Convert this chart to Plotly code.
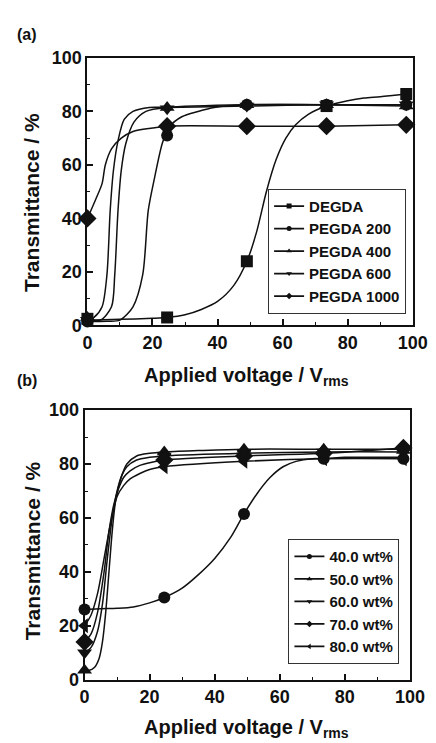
import plotly.graph_objects as go

# ---------------- Panel (a) data ----------------
a_names = ["DEGDA", "PEGDA 200", "PEGDA 400", "PEGDA 600", "PEGDA 1000"]
a_symbols = ["square", "circle", "triangle-up", "triangle-down", "diamond"]

# measured points (markers)
a_mx = [0, 24.5, 49, 73.5, 98]
a_my_degda = [2.5, 3, 24, 82, 86.5]
a_my_p200 = [1.5, 71, 82.5, 82.5, 82.5]
a_my_p400 = [3, 81.5, 82.5, 82.5, 82]
a_my_p600 = [2, 81, 82, 82.5, 82.5]
a_my_p1000 = [40, 74.5, 74.5, 74.5, 75]

# fitted curves
a_cx_degda = [0, 10, 20, 24.5, 30, 35, 40, 45, 49, 52, 55, 58, 61, 64, 68, 73.5, 80, 85, 90, 98]
a_cy_degda = [2, 2.3, 2.7, 3, 4, 6, 9, 15, 24, 35, 50, 62, 70, 75, 79, 82, 84, 85, 85.5, 86.5]
a_cx_p200 = [0, 6, 10, 14, 17, 18.7, 20.6, 23, 25, 29, 34, 39, 49, 73.5, 98]
a_cy_p200 = [1.5, 1.6, 2, 7, 19, 43, 55, 68, 74, 78, 80, 81.5, 82.5, 82.5, 82.5]
a_cx_p400 = [0, 4, 7.4, 8.4, 9.4, 10.4, 11.8, 14.3, 18, 24.5, 49, 73.5, 98]
a_cy_p400 = [2.5, 2, 7, 19, 43, 58, 68, 76, 80, 81.5, 82.5, 82.5, 82]
a_cx_p600 = [0, 2, 4.5, 6, 7, 8, 9.4, 11.3, 14, 19, 24.5, 49, 73.5, 98]
a_cy_p600 = [2, 3, 7, 19, 43, 58, 69, 77, 80, 81.5, 81.5, 82, 82.5, 82.5]
a_cx_p1000 = [0, 2.5, 4.5, 5.5, 7.4, 10.4, 14, 20, 24.5, 49, 73.5, 98]
a_cy_p1000 = [40, 47, 53, 60, 66, 70, 72.5, 73.8, 74.5, 74.5, 74.5, 75]

# ---------------- Panel (b) data ----------------
b_names = ["40.0 wt%", "50.0 wt%", "60.0 wt%", "70.0 wt%", "80.0 wt%"]
b_symbols = ["circle", "triangle-up", "triangle-down", "diamond", "triangle-left"]

b_mx = [0, 24.5, 49, 73.5, 98]
b_my_40 = [26, 30.5, 61.5, 82, 82]
b_my_50 = [3.5, 84.5, 85.5, 85.5, 85]
b_my_60 = [10, 83, 84, 84.5, 84.5]
b_my_70 = [14, 81.5, 83, 84, 86]
b_my_80 = [20, 79, 81, 82, 82]

b_cx_40 = [0, 5, 10, 15, 20, 24.5, 30, 35, 40, 45, 49, 53, 57, 61, 65, 70, 73.5, 80, 90, 98]
b_cy_40 = [26, 26.3, 26.5, 27, 28.5, 30.5, 34, 39, 45, 53, 61.5, 69, 75, 79, 81, 82, 82, 82.5, 82.5, 82.5]
b_cx_50 = [0, 1.5, 3, 4.5, 5.5, 6.5, 7.5, 8.5, 9.5, 11, 13, 16, 20, 24.5, 35, 49, 73.5, 98]
b_cy_50 = [4, 3.5, 4.5, 8, 14, 25, 40, 55, 66, 74, 80, 83, 84, 84.5, 85, 85.5, 85.5, 85.5]
b_cx_60 = [0, 2, 4, 5.5, 7, 8.5, 10, 11.5, 13, 16, 20, 24.5, 49, 73.5, 98]
b_cy_60 = [10, 12, 18, 28, 45, 60, 70, 76, 79, 81.5, 82.5, 83, 84, 84.5, 84.5]
b_cx_70 = [0, 2, 4, 6, 7.5, 9, 10.5, 12, 14, 17, 20, 24.5, 49, 73.5, 98]
b_cy_70 = [14, 17, 25, 40, 55, 65, 71, 75, 77.5, 79.5, 80.5, 81.5, 83, 84, 86]
b_cx_80 = [0, 2, 4, 6, 8, 10, 12, 14, 17, 20, 24.5, 49, 73.5, 98]
b_cy_80 = [20, 24, 32, 45, 58, 68, 72, 74.5, 76.5, 78, 79, 81, 82, 82]

tick_vals = [0, 20, 40, 60, 80, 100]

INK = "#111111"
FONT = "Liberation Sans"

fig = go.Figure()

a_curves = [(a_cx_degda, a_cy_degda, a_my_degda), (a_cx_p200, a_cy_p200, a_my_p200),
            (a_cx_p400, a_cy_p400, a_my_p400), (a_cx_p600, a_cy_p600, a_my_p600),
            (a_cx_p1000, a_cy_p1000, a_my_p1000)]
b_curves = [(b_cx_40, b_cy_40, b_my_40), (b_cx_50, b_cy_50, b_my_50),
            (b_cx_60, b_cy_60, b_my_60), (b_cx_70, b_cy_70, b_my_70),
            (b_cx_80, b_cy_80, b_my_80)]

msize = {"square": 12, "circle": 12, "triangle-up": 13, "triangle-down": 13,
         "diamond": 14, "triangle-left": 13}

def add_panel(curves, mx, names, symbols, xa, ya, legend):
    for (cx, cy, my), name, sym in zip(curves, names, symbols):
        fig.add_trace(go.Scatter(x=cx, y=cy, mode="lines", xaxis=xa, yaxis=ya,
                                 line=dict(color=INK, width=1.5, shape="spline", smoothing=0.8),
                                 showlegend=False, hoverinfo="skip"))
        fig.add_trace(go.Scatter(x=mx, y=my, mode="markers", xaxis=xa, yaxis=ya,
                                 marker=dict(symbol=sym, size=msize[sym], color=INK),
                                 showlegend=False, name=name, cliponaxis=False))
        fig.add_trace(go.Scatter(x=[None], y=[None], mode="lines+markers", xaxis=xa, yaxis=ya,
                                 line=dict(color=INK, width=1.8),
                                 marker=dict(symbol=sym, size=5, color=INK),
                                 name=name, legend=legend, showlegend=True))

add_panel(a_curves, a_mx, a_names, a_symbols, "x", "y", "legend")
add_panel(b_curves, b_mx, b_names, b_symbols, "x2", "y2", "legend2")

axis_common = dict(range=[0, 100], tickvals=tick_vals, ticks="inside", ticklen=6,
                   tickwidth=1.5, tickcolor=INK, showline=True, linewidth=2, linecolor=INK,
                   mirror=True, showgrid=False, zeroline=False,
                   minor=dict(ticks="inside", ticklen=3, dtick=10, tickcolor=INK, tickwidth=1.2),
                   tickfont=dict(family=FONT, size=18, color=INK, weight="bold"))

W, H = 436, 743
fig.update_layout(
    width=W, height=H, margin=dict(l=0, r=0, t=0, b=0),
    plot_bgcolor="white", paper_bgcolor="white",
    xaxis=dict(domain=[78 / W, 419 / W], anchor="y", **axis_common),
    yaxis=dict(domain=[1 - 316 / H, 1 - 41 / H], anchor="x", **axis_common),
    xaxis2=dict(domain=[75 / W, 416 / W], anchor="y2", **axis_common),
    yaxis2=dict(domain=[1 - 680 / H, 1 - 403 / H], anchor="x2", **axis_common),
    legend=dict(x=412 / W, y=1 - 304 / H, xanchor="right", yanchor="bottom",
                bordercolor="#333333", borderwidth=1, bgcolor="white",
                font=dict(family=FONT, size=15, color=INK, weight="bold"),
                itemwidth=30, tracegroupgap=0),
    legend2=dict(x=405 / W, y=1 - 664 / H, xanchor="right", yanchor="bottom",
                 bordercolor="#333333", borderwidth=1, bgcolor="white",
                 font=dict(family=FONT, size=15, color=INK, weight="bold"),
                 itemwidth=30, tracegroupgap=0),
    showlegend=True,
)

title_font = dict(family=FONT, size=20, color=INK, weight="bold")
annos = [
    dict(text="(a)", x=2 / W, y=1 - 17 / H, xanchor="left", yanchor="middle",
         font=dict(family=FONT, size=16, color=INK, weight="bold")),
    dict(text="(b)", x=2 / W, y=1 - 373 / H, xanchor="left", yanchor="middle",
         font=dict(family=FONT, size=16, color=INK, weight="bold")),
    dict(text="Applied voltage / V<sub>rms</sub>", x=245 / W, y=1 - 368 / H,
         xanchor="center", yanchor="middle", font=title_font),
    dict(text="Applied voltage / V<sub>rms</sub>", x=245 / W, y=1 - 730 / H,
         xanchor="center", yanchor="middle", font=title_font),
    dict(text="Transmittance / %", x=20 / W, y=1 - 190 / H, textangle=-90,
         xanchor="center", yanchor="middle", font=dict(family=FONT, size=21, color=INK, weight="bold")),
    dict(text="Transmittance / %", x=20 / W, y=1 - 548 / H, textangle=-90,
         xanchor="center", yanchor="middle", font=dict(family=FONT, size=21, color=INK, weight="bold")),
]
for a in annos:
    fig.add_annotation(xref="paper", yref="paper", showarrow=False, **a)

fig.write_html("out.html")
